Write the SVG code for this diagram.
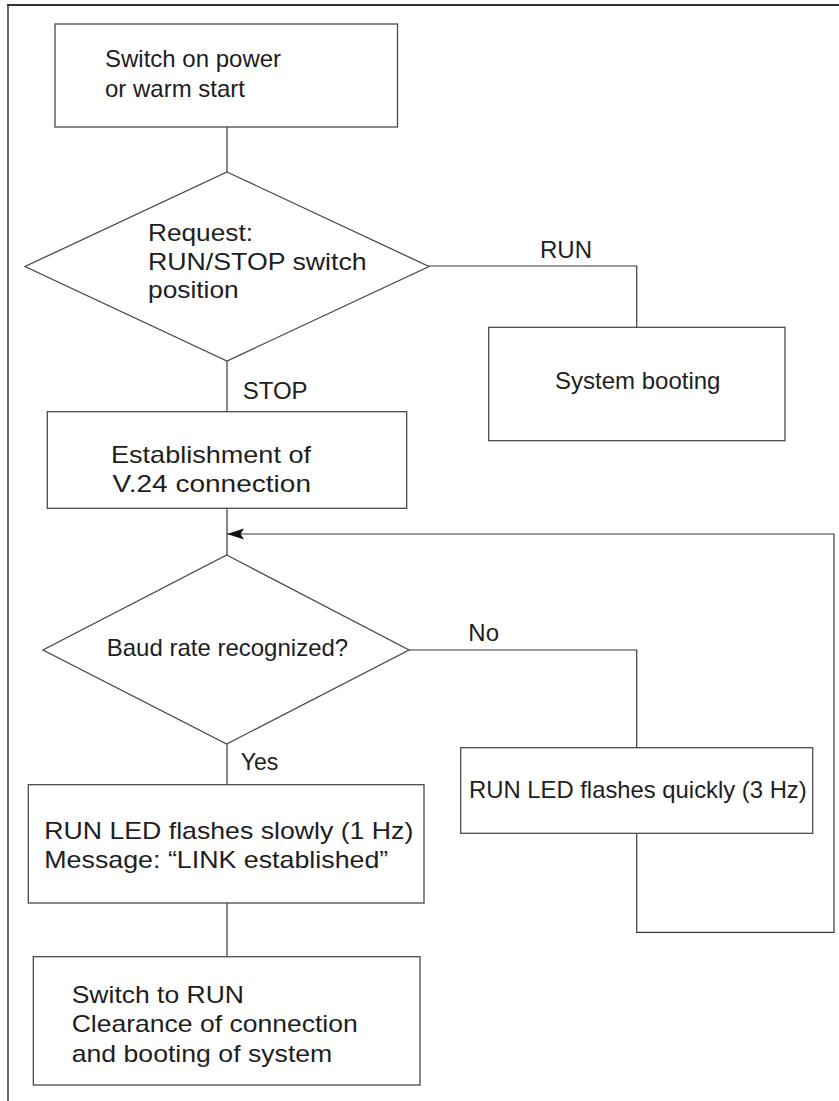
<svg xmlns="http://www.w3.org/2000/svg" width="839" height="1101" viewBox="0 0 839 1101">
<style>
  .box { fill: #ffffff; stroke: #4a4a4a; stroke-width: 1.3; }
  .conn { fill: none; stroke: #3a3a3a; stroke-width: 1.2; }
  .frame { fill: none; stroke: #333333; }
  text { font-family: "Liberation Sans", Arial, Helvetica, sans-serif; font-size: 24px; fill: #1e1e1e; }
</style>
<defs>
  <marker id="arrow" markerUnits="userSpaceOnUse" markerWidth="18" markerHeight="12" refX="17" refY="6" orient="auto" viewBox="0 0 18 12">
    <path d="M17,6 L0,0.5 L3.5,6 L0,11.5 Z" fill="#111111"/>
  </marker>
</defs>
<rect width="839" height="1101" fill="#ffffff"/>
<!-- frame -->
<g id="frame">
  <line class="frame" x1="7" y1="5" x2="839" y2="5" stroke-width="2.2"/>
  <line class="frame" x1="8" y1="4" x2="8" y2="1101" stroke-width="1.5"/>
</g>
<!-- connectors -->
<g id="connectors">
  <line class="conn" x1="227" y1="127" x2="227" y2="172"/>
  <line class="conn" x1="227" y1="361" x2="227" y2="411.5"/>
  <polyline class="conn" points="429,266 636.7,266 636.7,327.3"/>
  <line class="conn" x1="227" y1="508.5" x2="227" y2="555"/>
  <line class="conn" x1="227" y1="744" x2="227" y2="785"/>
  <polyline class="conn" points="409,650 636.7,650 636.7,747.7"/>
  <polyline class="conn" points="636.7,833.3 636.7,932.3 834,932.3 834,534 227,534" marker-end="url(#arrow)"/>
  <line class="conn" x1="227" y1="903" x2="227" y2="957"/>
  <text x="540" y="258.3">RUN</text>
  <text x="242.7" y="399.3">STOP</text>
  <text x="468.3" y="640.7">No</text>
  <text x="240.7" y="770" textLength="37.6" lengthAdjust="spacingAndGlyphs">Yes</text>
</g>
<g id="n_start">
  <rect class="box" x="55" y="24" width="342.5" height="103"/>
  <text x="105" y="66.7">Switch on power</text>
  <text x="105" y="97.3">or warm start</text>
</g>
<g id="n_request">
  <polygon class="box" points="227,172 429,266.5 227,361 25,266.5"/>
  <text x="148" y="241" textLength="105" lengthAdjust="spacingAndGlyphs">Request:</text>
  <text x="148" y="269.5" textLength="218.7" lengthAdjust="spacingAndGlyphs">RUN/STOP switch</text>
  <text x="148" y="298" textLength="90.7" lengthAdjust="spacingAndGlyphs">position</text>
</g>
<g id="n_booting">
  <rect class="box" x="488.7" y="327.3" width="296.3" height="113.4"/>
  <text x="555" y="389.3">System booting</text>
</g>
<g id="n_v24">
  <rect class="box" x="47.3" y="411.7" width="359.4" height="96.6"/>
  <text x="111" y="463.3" textLength="200" lengthAdjust="spacingAndGlyphs">Establishment of</text>
  <text x="112.5" y="491.7" textLength="198.5" lengthAdjust="spacingAndGlyphs">V.24 connection</text>
</g>
<g id="n_baud">
  <polygon class="box" points="226.7,555 409,650 226.7,744 43,650"/>
  <text x="106.7" y="655.7">Baud rate recognized?</text>
</g>
<g id="n_quick">
  <rect class="box" x="460.7" y="747.7" width="352" height="85.6"/>
  <text x="469" y="797.7" textLength="337.7" lengthAdjust="spacingAndGlyphs">RUN LED flashes quickly (3 Hz)</text>
</g>
<g id="n_slow">
  <rect class="box" x="28.3" y="784.7" width="395.7" height="118.3"/>
  <text x="44.3" y="839" textLength="369" lengthAdjust="spacingAndGlyphs">RUN LED flashes slowly (1 Hz)</text>
  <text x="44.3" y="868.3" textLength="344" lengthAdjust="spacingAndGlyphs">Message: “LINK established”</text>
</g>
<g id="n_run">
  <rect class="box" x="33.3" y="956.7" width="386.7" height="128.3"/>
  <text x="71.7" y="1002.7" textLength="172.3" lengthAdjust="spacingAndGlyphs">Switch to RUN</text>
  <text x="71.7" y="1032.3" textLength="286" lengthAdjust="spacingAndGlyphs">Clearance of connection</text>
  <text x="71.7" y="1061.7" textLength="260.6" lengthAdjust="spacingAndGlyphs">and booting of system</text>
</g>
</svg>
